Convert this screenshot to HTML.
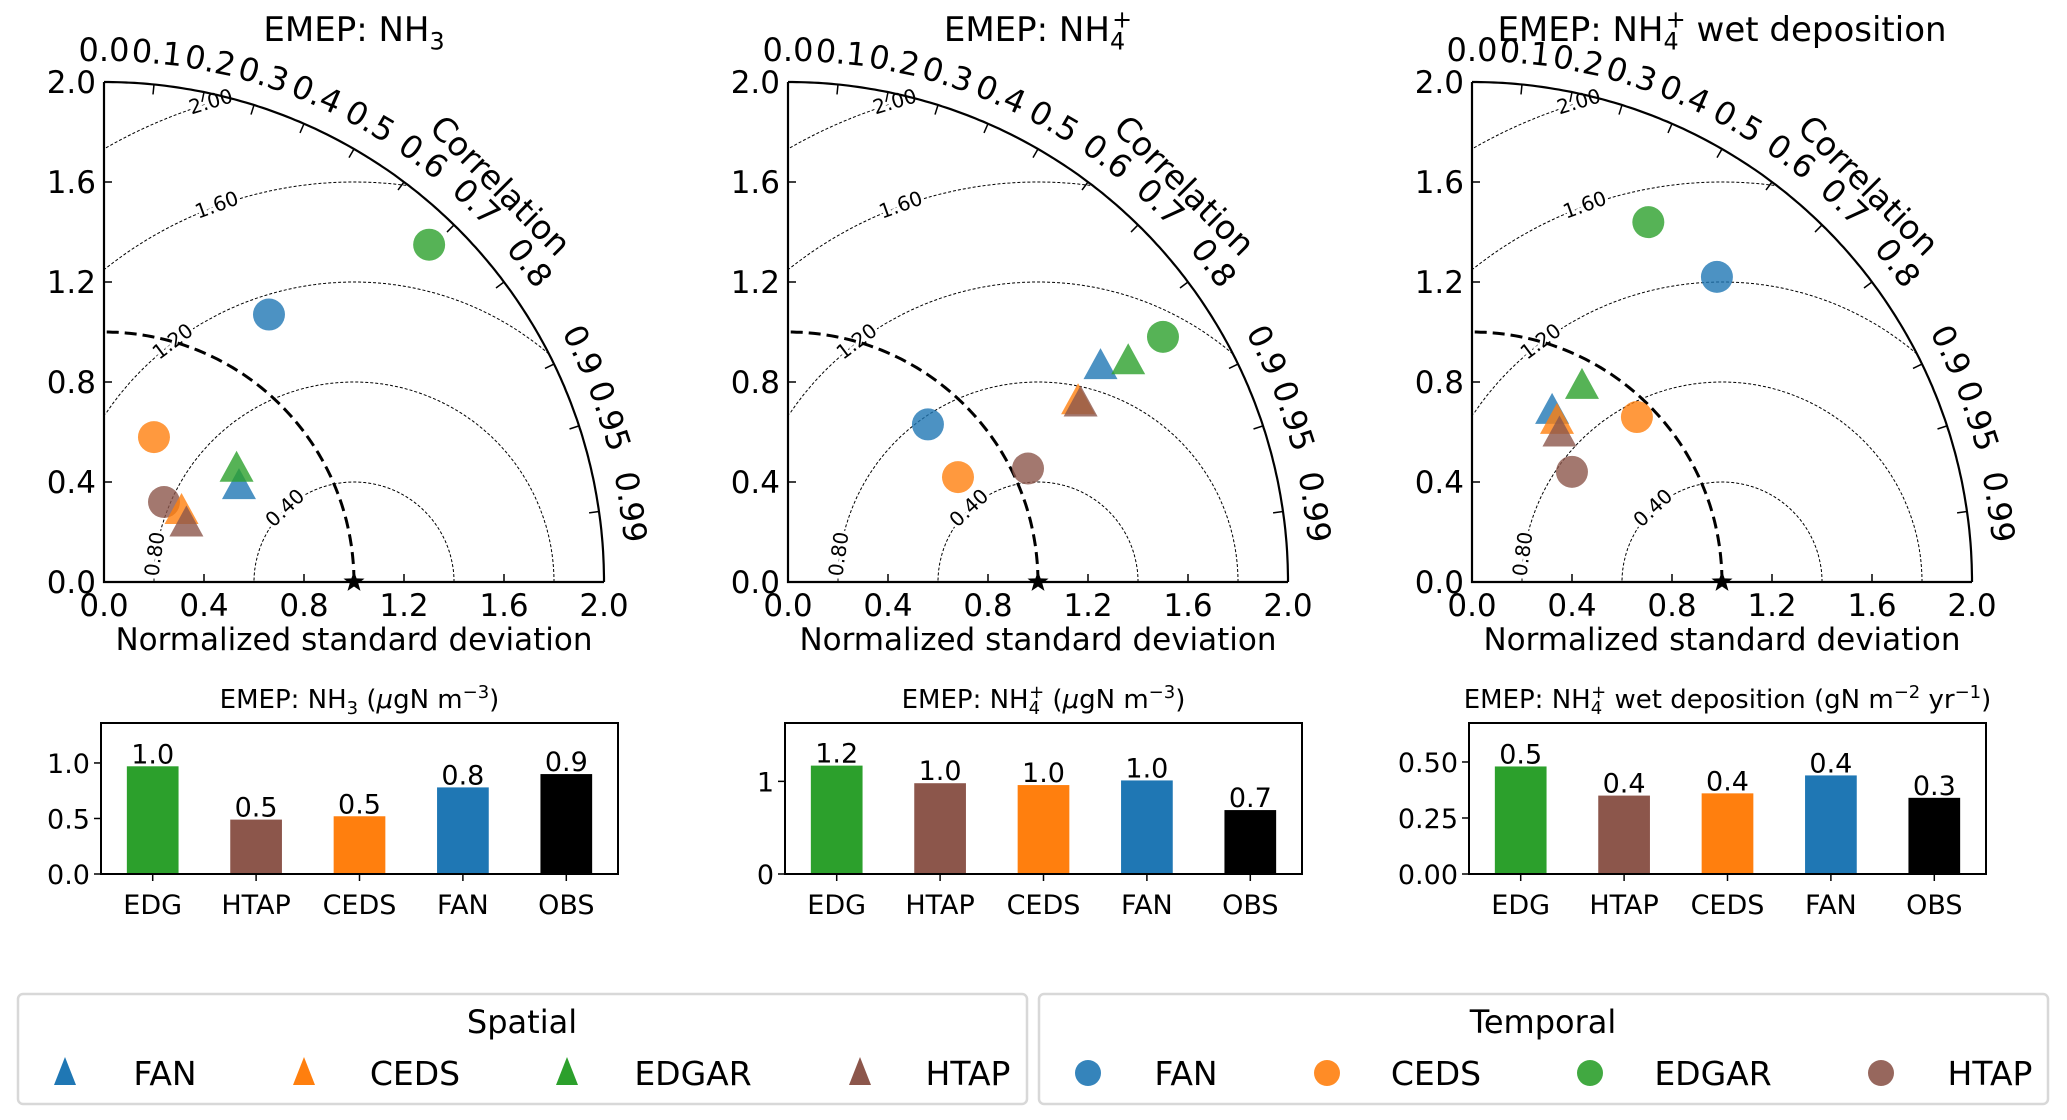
<!DOCTYPE html>
<html><head><meta charset="utf-8">
<style>
html,body{margin:0;padding:0;background:#fff;}
svg{display:block;font-family:"DejaVu Sans","Liberation Sans",sans-serif;}
</style></head>
<body>
<svg id="fig" width="2067" height="1120" viewBox="0 0 2067 1120" xmlns="http://www.w3.org/2000/svg"></svg>
<script>
// ---- Taylor data (normalized std, correlation) per panel ----
const panelTitles = ["NH3", "NH4", "NH4wet"];
const sources = ["FAN", "CEDS", "EDGAR", "HTAP"];
const temporalStd = [[1.257, 0.613, 1.874, 0.400], [0.843, 0.799, 1.792, 1.062], [1.565, 0.933, 1.603, 0.595]];
const temporalCorr = [[0.525, 0.326, 0.694, 0.600], [0.664, 0.851, 0.837, 0.904], [0.626, 0.707, 0.440, 0.672]];
const spatialStd = [[0.660, 0.418, 0.695, 0.402], [1.517, 1.365, 1.620, 1.369], [0.752, 0.725, 0.896, 0.686]];
const spatialCorr = [[0.818, 0.742, 0.763, 0.820], [0.824, 0.850, 0.840, 0.855], [0.426, 0.469, 0.491, 0.510]];
const stdTicks = ["0.0", "0.4", "0.8", "1.2", "1.6", "2.0"];
const corrTicks = ["0.0","0.1","0.2","0.3","0.4","0.5","0.6","0.7","0.8","0.9","0.95","0.99"];
const rmsLevels = ["0.40", "0.80", "1.20", "1.60", "2.00"];
// ---- Bar data ----
const barCategories = ["EDG", "HTAP", "CEDS", "FAN", "OBS"];
const barValues = [[0.97, 0.49, 0.52, 0.78, 0.90], [1.17, 0.98, 0.96, 1.01, 0.69], [0.48, 0.35, 0.36, 0.44, 0.34]];
const barLabels = [["1.0","0.5","0.5","0.8","0.9"], ["1.2","1.0","1.0","1.0","0.7"], ["0.5","0.4","0.4","0.4","0.3"]];
const barYMax = [1.36, 1.63, 0.674];
const barYTicks = [["0.0","0.5","1.0"], ["0","1"], ["0.00","0.25","0.50"]];

const colors = {FAN:"#1f77b4", CEDS:"#ff7f0e", EDGAR:"#2ca02c", HTAP:"#8c564b"};
const barColors = ["#2ca02c", "#8c564b", "#ff7f0e", "#1f77b4", "#000000"];
const NS = "http://www.w3.org/2000/svg";
const svg = document.getElementById("fig");
function mk(tag, attrs, parent, text) {
  const e = document.createElementNS(NS, tag);
  for (const k in attrs) e.setAttribute(k, attrs[k]);
  if (text !== undefined) e.textContent = text;
  (parent || svg).appendChild(e);
  return e;
}
const U = 250, OY = 582;
const OX = [104, 788, 1472];

function title(g, cx, y, idx, size) {
  const t = mk("text", {x: cx, y: y, "text-anchor": "middle", "font-size": size}, g);
  
  
  mk("tspan", {}, t, "EMEP: NH");
  if (idx === 0) {
    mk("tspan", {dy: size*0.25, "font-size": size*0.7}, t, "3");
  } else {
    mk("tspan", {dy: size*0.25, "font-size": size*0.7}, t, "4");
    mk("tspan", {dy: -size*0.65, dx: -size*0.38, "font-size": size*0.7}, t, "+");
    mk("tspan", {dy: size*0.4}, t, (idx === 2 ? "  wet deposition" : ""));
  }
  return t;
}

for (let p = 0; p < 3; p++) {
  const ox = OX[p];
  const g = mk("g", {});
  
  
  const X = v => ox + v * U;
  const Y = v => OY - v * U;
  const polar = (r, c) => { const a = Math.acos(c); return [X(r*Math.cos(a)), Y(r*Math.sin(a))]; };
  title(g, ox + U, 41, p, 34);
  rmsLevels.forEach(lv => {
    const rr = parseFloat(lv);
    let d = "", pen = false;
    for (let i = 0; i <= 360; i++) {
      const a = Math.PI * i / 360;
      const x = 1 + rr*Math.cos(a), y = rr*Math.sin(a);
      if (x >= 0 && x*x + y*y <= 4.0001) { d += (pen ? "L" : "M") + X(x).toFixed(1) + "," + Y(y).toFixed(1); pen = true; }
      else pen = false;
    }
    const c = mk("path", {d: d, fill: "none", stroke: "#000", "stroke-width": 1, "stroke-dasharray": "3,2"}, g);
    
    
  });
  const labAng = {"0.40":133, "0.80":172, "1.20":127, "1.60":110, "2.00":106.6};
  rmsLevels.forEach(lv => {
    const rr = parseFloat(lv), a = labAng[lv] * Math.PI/180;
    const x = X(1 + rr*Math.cos(a)), y = Y(rr*Math.sin(a));
    const t = mk("text", {x: x, y: y, "font-size": 20, "text-anchor": "middle", "dominant-baseline": "middle",
      transform: `rotate(${-(labAng[lv]-90)} ${x} ${y})`,
      stroke: "#fff", "stroke-width": 6, "paint-order": "stroke"}, g, lv);
    
    
  });
  let rd = "";
  for (let i = 0; i <= 90; i++) { const a = Math.PI/2 * i/90; rd += (i ? "L" : "M") + X(Math.cos(a)).toFixed(1) + "," + Y(Math.sin(a)).toFixed(1); }
  const rc = mk("path", {d: rd, fill: "none", stroke: "#000", "stroke-width": 3, "stroke-dasharray": "12,6"}, g);
  
  
  let od = "";
  for (let i = 0; i <= 180; i++) { const a = Math.PI/2 * i/180; od += (i ? "L" : "M") + X(2*Math.cos(a)).toFixed(1) + "," + Y(2*Math.sin(a)).toFixed(1); }
  const oa = mk("path", {d: od, fill: "none", stroke: "#000", "stroke-width": 2.2}, g);
  
  
  const ax = mk("path", {d: `M${X(0)},${Y(2)}L${X(0)},${Y(0)}L${X(2)},${Y(0)}`, fill: "none", stroke: "#000", "stroke-width": 2.2}, g);
  
  
  stdTicks.forEach(s => {
    const v = parseFloat(s);
    mk("line", {x1: X(v), y1: Y(0), x2: X(v), y2: Y(0)-8, stroke: "#000", "stroke-width": 1.5}, g);
    mk("line", {x1: X(0), y1: Y(v), x2: X(0)+8, y2: Y(v), stroke: "#000", "stroke-width": 1.5}, g);
    const tx = mk("text", {x: X(v), y: Y(0) + 34, "text-anchor": "middle", "font-size": 31}, g, s);
    
    
    const ty = mk("text", {x: X(0) - 8, y: Y(v) + 11, "text-anchor": "end", "font-size": 31}, g, s);
    
    
  });
  const xl = mk("text", {x: X(1), y: Y(0) + 68, "text-anchor": "middle", "font-size": 31}, g, "Normalized standard deviation");
  
  
  corrTicks.forEach(s => {
    const c = parseFloat(s), a = Math.acos(c);
    const [x1, y1] = polar(2, c), [x2, y2] = polar(1.96, c);
    mk("line", {x1: x1, y1: y1, x2: x2, y2: y2, stroke: "#000", "stroke-width": 1.5}, g);
    const [lx, ly] = polar(2.12, c);
    const deg = 90 - a*180/Math.PI;
    const t = mk("text", {x: lx, y: ly, "text-anchor": "middle", "dominant-baseline": "middle", "font-size": 32,
      transform: `rotate(${deg} ${lx} ${ly})`}, g, s);
    
    
  });
  const cl = mk("text", {x: X(1.58), y: Y(1.58), "text-anchor": "middle", "dominant-baseline": "middle", "font-size": 33,
    transform: `rotate(45 ${X(1.58)} ${Y(1.58)})`}, g, "Correlation");
  
  
  const sx = X(1), sy = Y(0);
  let sp = "";
  for (let i = 0; i < 10; i++) { const r = i % 2 ? 4.5 : 11, a = -Math.PI/2 + i*Math.PI/5; sp += (sx + r*Math.cos(a)).toFixed(1) + "," + (sy + r*Math.sin(a)).toFixed(1) + " "; }
  const st = mk("polygon", {points: sp, fill: "#000"}, g);
  
  
  sources.forEach((s, i) => {
    const [x, y] = polar(temporalStd[p][i], temporalCorr[p][i]);
    const c = mk("circle", {cx: x, cy: y, r: 16, fill: colors[s], "fill-opacity": 0.8}, g);
    
    
  });
  sources.forEach((s, i) => {
    const [x, y] = polar(spatialStd[p][i], spatialCorr[p][i]);
    const tr = mk("polygon", {points: `${x},${y-19} ${x-17},${y+12} ${x+17},${y+12}`, fill: colors[s], "fill-opacity": 0.8}, g);
    
    
  });
}

// ---- Bar charts ----
const BX = [101, 785, 1469], BW = 517, BT = 723, BB = 874;
for (let p = 0; p < 3; p++) {
  const g = mk("g", {});
  
  
  const bx = BX[p];
  const xs = i => bx + (i + 0.5) * BW / 5;
  const ys = v => BB - v / barYMax[p] * (BB - BT);
  const t = mk("text", {x: bx + BW/2, y: 708, "text-anchor": "middle", "font-size": 26}, g);
  
  
  mk("tspan", {}, t, "EMEP: NH");
  if (p === 0) { mk("tspan", {dy: 6, "font-size": 18}, t, "3"); mk("tspan", {dy: -6}, t, " (");
    mk("tspan", {"font-style": "italic"}, t, "\u03BC"); mk("tspan", {}, t, "gN m"); mk("tspan", {dy: -10, "font-size": 18}, t, "\u22123"); mk("tspan", {dy: 10}, t, ")"); }
  else { mk("tspan", {dy: 6, "font-size": 18}, t, "4"); mk("tspan", {dy: -16, dx: -11, "font-size": 18}, t, "+");
    if (p === 1) { mk("tspan", {dy: 10}, t, "  ("); mk("tspan", {"font-style": "italic"}, t, "\u03BC"); mk("tspan", {}, t, "gN m"); mk("tspan", {dy: -10, "font-size": 18}, t, "\u22123"); mk("tspan", {dy: 10}, t, ")"); }
    else { mk("tspan", {dy: 10}, t, "  wet deposition (gN m"); mk("tspan", {dy: -10, "font-size": 18}, t, "\u22122"); mk("tspan", {dy: 10}, t, " yr"); mk("tspan", {dy: -10, "font-size": 18}, t, "\u22121"); mk("tspan", {dy: 10}, t, ")"); }
  }
  barValues[p].forEach((v, i) => {
    const b = mk("rect", {x: xs(i) - BW/20, y: ys(v), width: BW/10, height: BB - ys(v), fill: barColors[i]}, g);
    
    
    const l = mk("text", {x: xs(i), y: ys(v) - 3, "text-anchor": "middle", "font-size": 27}, g, barLabels[p][i]);
    
    
    mk("line", {x1: xs(i), y1: BB, x2: xs(i), y2: BB + 7, stroke: "#000", "stroke-width": 1.5}, g);
    const c = mk("text", {x: xs(i), y: BB + 40, "text-anchor": "middle", "font-size": 27}, g, barCategories[i]);
    
    
  });
  barYTicks[p].forEach(s => {
    const v = parseFloat(s);
    mk("line", {x1: bx, y1: ys(v), x2: bx - 7, y2: ys(v), stroke: "#000", "stroke-width": 1.5}, g);
    const l = mk("text", {x: bx - 11, y: ys(v) + 10, "text-anchor": "end", "font-size": 27}, g, s);
    
    
  });
  const fr = mk("rect", {x: bx, y: BT, width: BW, height: BB - BT, fill: "none", stroke: "#000", "stroke-width": 2}, g);
  
  
}

// ---- Legends ----
const legendX = [18, 1039];
const legendNames = ["Spatial", "Temporal"];
const markerX = [[65, 304, 567, 860], [1088, 1327, 1590, 1881]];
const textX = [[165, 415, 693, 968], [1186, 1436, 1713, 1990]];
for (let L = 0; L < 2; L++) {
  const g = mk("g", {});
  
  
  mk("rect", {x: legendX[L], y: 994, width: 1009, height: 110, rx: 5, fill: "#fff", stroke: "#d8d8d8", "stroke-width": 2.5}, g);
  const tt = mk("text", {x: legendX[L] + 504, y: 1033, "text-anchor": "middle", "font-size": 32}, g, legendNames[L]);
  
  
  sources.forEach((s, i) => {
    const mx = markerX[L][i], my = 1073;
    let m;
    if (L === 0) m = mk("polygon", {points: `${mx},${my-16} ${mx-11},${my+12} ${mx+11},${my+12}`, fill: colors[s]}, g);
    else m = mk("circle", {cx: mx, cy: my, r: 13, fill: colors[s], "fill-opacity": 0.9}, g);
    
    
    const t = mk("text", {x: textX[L][i], y: my + 12, "text-anchor": "middle", "font-size": 33}, g, s);
    
    
  });
}
</script>
</body></html>
